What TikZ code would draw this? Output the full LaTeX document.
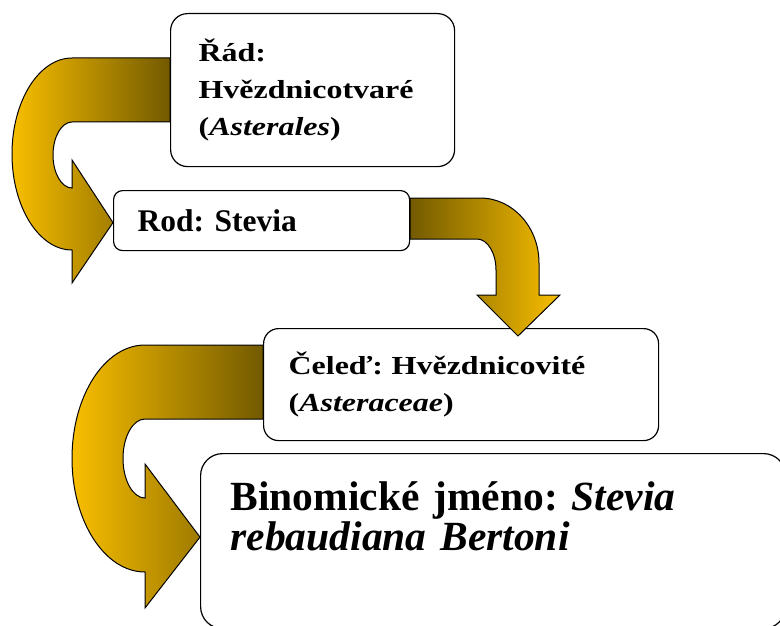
\documentclass[tikz,border=0pt]{standalone}
\usepackage{fontspec}
\setmainfont{Liberation Serif}
\newfontfamily\wideserif[FakeStretch=1.23]{Liberation Serif}
\usepackage{tikz}
\definecolor{arrowgold}{RGB}{248,190,0}
\definecolor{arrowbrown}{RGB}{115,90,0}
\frenchspacing

\begin{document}
\begin{tikzpicture}[x=1pt,y=-1pt]
  \tikzset{box/.style={draw,line width=1.2pt,fill=white,anchor=north west,align=left,inner ysep=0pt},
           turnarrow/.style={draw=black,line width=1pt}}
  \useasboundingbox (0,0) rectangle (780,626);
  \clip (0,0) rectangle (780,626);
  \node [box,rounded corners=17pt,minimum width=284pt,minimum height=153pt,inner xsep=28pt,text width=228pt,
         font=\wideserif\bfseries\fontsize{26}{37}\selectfont] (rad) at (170,13) {Řád:\\Hvězdnicotvaré\\(\textit{Asterales})};
  \node [box,rounded corners=9pt,minimum width=296pt,minimum height=60pt,inner xsep=24pt,text width=248pt,
         font=\bfseries\fontsize{31.5}{36}\selectfont] (rod) at (113,190) {Rod: Stevia};
  \node [box,rounded corners=15pt,minimum width=395pt,minimum height=112pt,inner xsep=25pt,text width=345pt,
         font=\wideserif\bfseries\fontsize{26}{37}\selectfont] (celed) at (263,328) {Čeleď: Hvězdnicovité\\(\textit{Asteraceae})};
  \node [box,rounded corners=22pt,minimum width=585pt,minimum height=175pt,inner xsep=30pt,text width=525pt,
         text height=30pt,text depth=91pt,font=\bfseries\fontsize{41.5}{40}\selectfont] (binom) at (200,453)
        {Binomické jméno: \textit{Stevia}\\\textit{rebaudiana Bertoni}};
  % arrows between the boxes
  \shadedraw [turnarrow,left color=arrowgold,right color=arrowbrown]
    (rad.west |- 0,58) -- (72,58) .. controls (39,58) and (12,101) .. (12,154)
    .. controls (12,207) and (39,250) .. (72,250) -- (72,283) -- ([yshift=-2pt]rod.west) -- (72,160) -- (72,188)
    .. controls (61.5,188) and (53,173) .. (53,155) .. controls (53,137) and (61.5,122) .. (72,122)
    -- (rad.west |- 0,122) -- cycle;
  \shadedraw [turnarrow,left color=arrowbrown,right color=arrowgold]
    (rod.east |- 0,198) -- (480,198) .. controls (512.6,198) and (539,227) .. (539,263) -- (539,295) -- (560,295)
    -- ([xshift=255pt,yshift=-8pt]celed.north west) -- (477,295) -- (496,295) -- (496,270)
    .. controls (496,253) and (487.5,239) .. (477,239) -- (rod.east |- 0,239) -- cycle;
  \shadedraw [turnarrow,left color=arrowgold,right color=arrowbrown]
    (celed.west |- 0,345) -- (145,345) .. controls (104.7,345) and (72,395.8) .. (72,458.5)
    .. controls (72,521.2) and (104.7,572) .. (145,572) -- (145,608) -- ([yshift=4pt]binom.west) -- (145,464) -- (145,498)
    .. controls (132.9,498) and (123,480.3) .. (123,458.5) .. controls (123,436.7) and (132.9,419) .. (145,419)
    -- (celed.west |- 0,419) -- cycle;
\end{tikzpicture}
\end{document}
